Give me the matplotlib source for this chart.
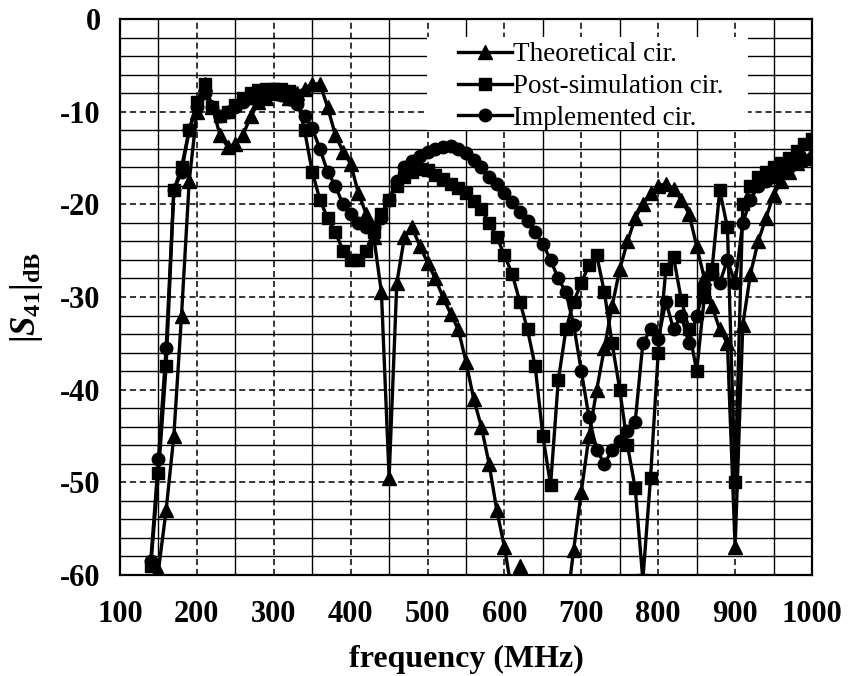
import numpy as np
import matplotlib
matplotlib.use("Agg")
import matplotlib.pyplot as plt
from matplotlib.ticker import FixedLocator
from matplotlib.patches import Rectangle

plt.rcParams['font.family'] = ['Liberation Serif', 'DejaVu Serif']
plt.rcParams['mathtext.fontset'] = 'custom'
plt.rcParams['mathtext.rm'] = 'Liberation Serif:bold'
plt.rcParams['mathtext.it'] = 'Liberation Serif:italic:bold'
plt.rcParams['mathtext.bf'] = 'Liberation Serif:bold'
plt.rcParams['axes.unicode_minus'] = False

# ---------------- data ----------------
f_theo = [150, 160, 170, 180, 190, 200, 210, 220, 230, 240, 250, 260, 270, 280, 290,
          300, 310, 320, 330, 340, 350, 360, 370, 380, 390, 400, 410, 420, 430, 440,
          450, 460, 470, 480, 490, 500, 510, 520, 530, 540, 550, 560, 570, 580, 590,
          600, 610, 620, 630, 680, 690, 700, 710, 720, 730, 740, 750, 760, 770, 780,
          790, 800, 810, 820, 830, 840, 850, 860, 870, 880, 890, 900, 910, 920, 930,
          940, 950, 960, 970, 980, 990, 1000]
s_theo = [-59.5, -53, -45, -32, -17.5, -10, -7, -9.5, -12.5, -13.8, -13.5, -12.5, -10.5, -9, -8.5,
          -8, -8, -8.5, -8, -7.5, -7, -7, -9.5, -12.5, -14.3, -15.6, -18.8, -21, -23.5, -29.5,
          -49.5, -28.5, -23.5, -22.5, -24.5, -26.3, -28, -30, -31.8, -33.5, -37, -41, -44, -48, -53,
          -57, -62, -59, -64, -64, -57.3, -51, -45, -40, -35.5, -31, -27, -24, -21.5, -20,
          -18.8, -18, -17.8, -18.3, -19.5, -21, -24.5, -28, -31, -33.5, -35, -57, -33, -27.5, -24,
          -21.5, -19, -17.5, -16.5, -15.5, -15, -14.5]

f_post = list(range(140, 1001, 10))
s_post = [-59, -49, -37.5, -18.5, -16, -12, -9, -7, -9.5, -10.5, -10, -9.3, -8.5, -8, -7.7, -7.5,
          -7.5, -7.6, -7.8, -8.5, -12, -16.5, -19.5, -21.5, -23, -25, -26, -26, -25, -23, -21,
          -19.5, -18, -17, -16.5, -16.2, -16.3, -16.8, -17.3, -17.8, -18.2, -18.8, -19.6, -20.5,
          -22, -23.5, -25.5, -27.5, -30.5, -33.5, -37.5, -45, -50.3, -39, -33.5, -30.5, -28.5,
          -26.5, -25.5, -29.5, -35, -40, -46, -50.6, -60.5, -49.5, -36, -27, -25.7, -30.3, -33.5,
          -38, -30, -27, -18.5, -22.5, -50, -20, -18, -17, -16.5, -16, -15.5, -15, -14.2, -13.5, -13]

f_impl = list(range(140, 1001, 10))
s_impl = [-58.5, -47.5, -35.5, -18.5, -16.5, -12, -9.5, -8, -9.5, -10.5, -10, -9.5, -9, -8.5,
          -8, -8, -8, -8.2, -8.6, -9.2, -10.5, -11.8, -14, -16.5, -18, -20, -21, -22, -22.5,
          -22.5, -21.5, -19.5, -17.5, -16, -15.3, -14.8, -14.3, -14, -13.8, -13.7, -14, -14.5,
          -15.2, -16, -17, -17.8, -18.8, -19.8, -20.8, -21.8, -23, -24.3, -26, -28, -29.5, -33,
          -38, -43, -46.5, -48, -46.5, -45.5, -44.5, -43.5, -35, -33.5, -34.5, -30.5, -33.5, -32,
          -35, -32, -29, -27.5, -28.5, -26, -28.5, -22, -19.5, -18, -17.5, -17, -16.5, -16,
          -15.5, -15.2, -15]

labels = ['Theoretical cir.', 'Post-simulation cir.', 'Implemented cir.']
x_ticks = [100, 200, 300, 400, 500, 600, 700, 800, 900, 1000]
y_ticks = [0, -10, -20, -30, -40, -50, -60]

# ---------------- figure ----------------
fig = plt.figure(figsize=(8.48, 6.76), dpi=100)
ax = fig.add_axes([120/848, 1-575/676, 692/848, 556/676])

lw = 2.4
ax.plot(f_theo, s_theo, color='black', lw=lw, marker='^', ms=10, zorder=4, label=labels[0])
ax.plot(f_post, s_post, color='black', lw=lw, marker='s', ms=8.5, zorder=4, label=labels[1])
ax.plot(f_impl, s_impl, color='black', lw=lw, marker='o', ms=9, zorder=4, label=labels[2])

ax.set_xlim(100, 1000)
ax.set_ylim(-60, 0)
ax.xaxis.set_major_locator(FixedLocator(x_ticks))
ax.yaxis.set_major_locator(FixedLocator(y_ticks))
ax.xaxis.set_minor_locator(FixedLocator(list(range(150, 1000, 100))))
ax.yaxis.set_minor_locator(FixedLocator([v for v in range(-58, 0, 2) if v % 10 != 0]))
ax.set_xticklabels([str(v) for v in x_ticks])
ax.set_yticklabels([str(v) for v in y_ticks])

ax.set_axisbelow(True)
ax.grid(which='major', color='black', lw=1.1, linestyle=(0, (4, 2.5)), zorder=0)
ax.grid(which='minor', color='black', lw=1.0, linestyle='-', zorder=0)

ax.tick_params(which='both', length=0)
ax.tick_params(axis='x', pad=18, labelsize=22)
ax.tick_params(axis='y', pad=14, labelsize=22)
for t in ax.get_xticklabels() + ax.get_yticklabels():
    t.set_fontweight('bold')
for sp in ax.spines.values():
    sp.set_linewidth(1.6)
    sp.set_zorder(5)

ax.set_xlabel('frequency (MHz)', fontsize=23, fontweight='bold')
ax.xaxis.set_label_coords(0.5, -0.125)
ax.set_ylabel(r'$|S_{41}|_{\rm dB}$', fontsize=25)
ax.yaxis.set_label_coords(-0.108, 0.5)

# white box behind legend
ax.add_patch(Rectangle((0.444, 0.80), 0.463, 0.168, transform=ax.transAxes,
                       facecolor='white', edgecolor='none', zorder=1))
leg = ax.legend(loc='upper left', bbox_to_anchor=(0.488, 0.958), frameon=False,
                fontsize=19.5, handlelength=2.0, handletextpad=0.05, labelspacing=0.25,
                borderpad=0, borderaxespad=0, numpoints=1, markerscale=1.0)
leg.set_zorder(6)

fig.savefig('out.png', dpi=100)
